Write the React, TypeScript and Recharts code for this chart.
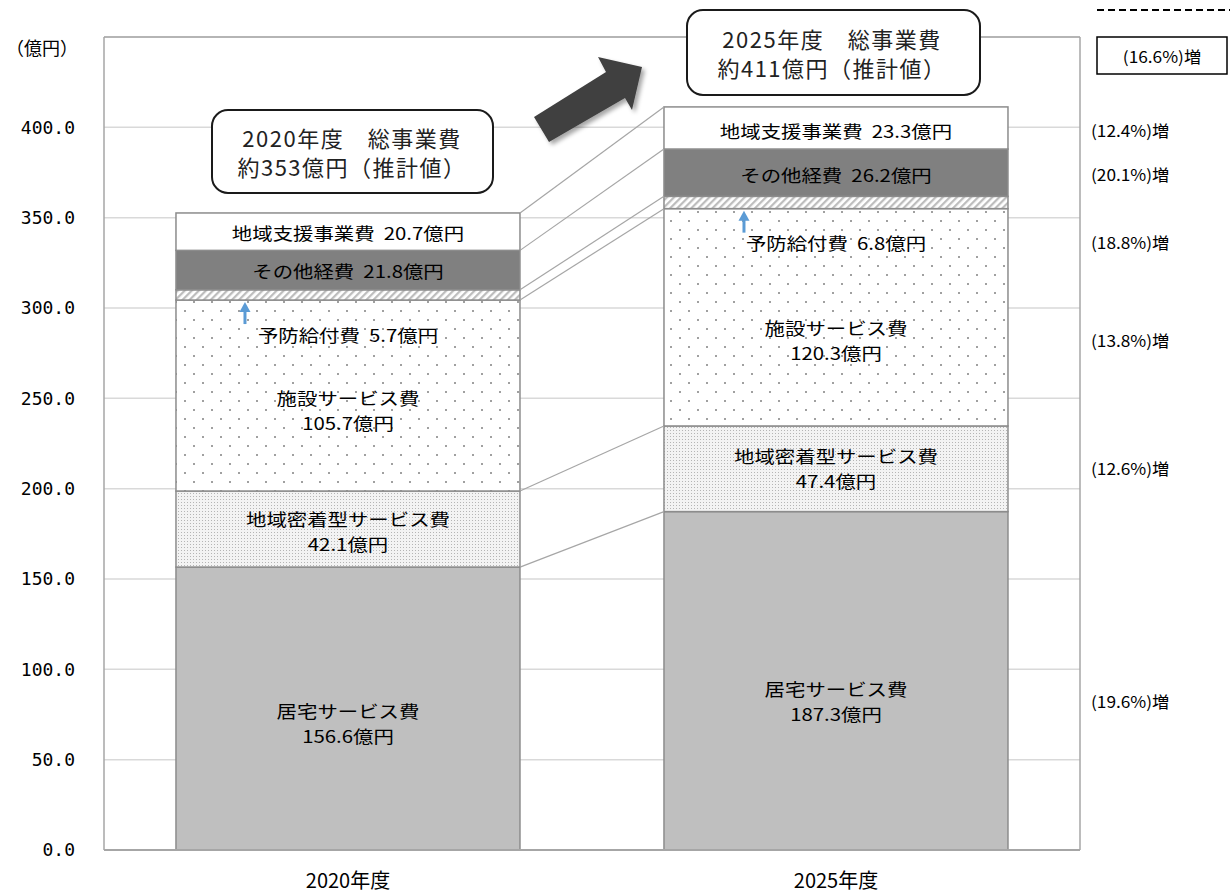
import React from "react";
import { ComposedChart, Bar, Line, XAxis, YAxis, CartesianGrid, ReferenceLine } from "recharts";

const FONT = '"Noto Sans CJK JP", "Noto Sans", sans-serif';
const MONO = '"DejaVu Sans Mono", "Liberation Mono", monospace';

const YEARS = ["2020年度", "2025年度"];
const SEGMENTS = ["居宅サービス費", "地域密着型サービス費", "施設サービス費", "予防給付費", "その他経費", "地域支援事業費"];
const VALUES_2020 = [156.6, 42.1, 105.7, 5.7, 21.8, 20.7];
const VALUES_2025 = [187.3, 47.4, 120.3, 6.8, 26.2, 23.3];
const GROWTH_2025 = ["(19.6%)増", "(12.6%)増", "(13.8%)増", "(18.8%)増", "(20.1%)増", "(12.4%)増"];
const TOTAL_GROWTH = "(16.6%)増";
const CALLOUTS = [
  ["2020年度　総事業費", "約353億円（推計値）"],
  ["2025年度　総事業費", "約411億円（推計値）"],
];
const Y_TICKS = [0, 50, 100, 150, 200, 250, 300, 350, 400];
const Y_MAX = 450;

// share of each category band left empty on either side of a bar
const BAR_GAP = 0.1475;

const FILLS = ["#bfbfbf", "url(#fineDots)", "url(#sparseDots)", "url(#hatch)", "#808080", "#ffffff"];
// label nudges (px) per segment, [2020, 2025]
const LABEL_DY = [[14, 20], [2, -1], [14, 23], [0, 0], [0, 2], [1, 2]];
const ARROW_DX = [69, 80];

const rows = YEARS.map((year, i) => {
  const vals = i === 0 ? VALUES_2020 : VALUES_2025;
  const row: Record<string, string | number> = { year };
  vals.forEach((v, k) => (row[`s${k}`] = v));
  return row;
});

const cumulative = (vals: number[]) =>
  vals.map((_, k) => Math.round(vals.slice(0, k + 1).reduce((a, b) => a + b, 0) * 10) / 10);
const cum2020 = cumulative(VALUES_2020);
const cum2025 = cumulative(VALUES_2025);
const connectors = cum2020.map((c, k) => [
  { cx: 1 - BAR_GAP, y: c },
  { cx: 1 + BAR_GAP, y: cum2025[k] },
]);

function labelLines(k: number, v: number): string[] {
  const amount = `${v.toFixed(1)}億円`;
  return k <= 2 ? [SEGMENTS[k], amount] : [`${SEGMENTS[k]}  ${amount}`];
}

function SText({ x, y, children, size = 17, sx = 1.2, anchor = "middle" }: any) {
  return (
    <text
      transform={`translate(${x},${y}) scale(${sx},1)`}
      textAnchor={anchor}
      dominantBaseline="central"
      fontSize={size}
      fontFamily={FONT}
      fill="#000"
      style={{ whiteSpace: "pre" }}
    >
      {children}
    </text>
  );
}

function BlueArrow({ x, y }: { x: number; y: number }) {
  return (
    <g>
      <line x1={x} y1={y + 8} x2={x} y2={y + 22} stroke="#5b9bd5" strokeWidth={3} />
      <polygon points={`${x},${y} ${x - 5.5},${y + 10} ${x + 5.5},${y + 10}`} fill="#5b9bd5" />
    </g>
  );
}

const segmentShape = (k: number) => (props: any) => {
  const { x, y, width, height, index } = props;
  const i = index as number;
  const vals = i === 0 ? VALUES_2020 : VALUES_2025;
  const lines = labelLines(k, vals[k]);
  const cx = x + width / 2;
  const cy = k === 3 ? y + height + 34 : y + height / 2 + LABEL_DY[k][i];
  const first = cy - ((lines.length - 1) * 25) / 2;
  return (
    <g>
      <rect x={x} y={y} width={width} height={height} fill={FILLS[k]} stroke="#8c8c8c" strokeWidth={1.5} />
      {lines.map((t, j) => (
        <SText key={j} x={cx} y={first + j * 25}>
          {t}
        </SText>
      ))}
      {k === 3 && <BlueArrow x={x + ARROW_DX[i]} y={y + height + 2} />}
      {i === 1 && (
        <SText x={x + width + 83} y={cy} size={16} sx={1.08} anchor="start">
          {GROWTH_2025[k]}
        </SText>
      )}
    </g>
  );
};

function Overlay() {
  return (
    <svg width={1230} height={893} style={{ position: "absolute", left: 0, top: 0, pointerEvents: "none" }}>
      <defs>
        <filter id="shadow" x="-20%" y="-20%" width="150%" height="150%">
          <feDropShadow dx="3" dy="3" stdDeviation="2" floodColor="#000" floodOpacity="0.35" />
        </filter>
      </defs>
      <text x={6} y={47} fontSize={18} fontFamily={FONT} dominantBaseline="central" fill="#000">
        （億円）
      </text>
      <line x1={1097} y1={10} x2={1230} y2={10} stroke="#000" strokeWidth={2} strokeDasharray="7 4" />
      {/* 2020 callout */}
      <rect x={212} y={110} width={281} height={83} rx={16} fill="#fff" stroke="#1a1a1a" strokeWidth={2} />
      {CALLOUTS[0].map((t, j) => (
        <text key={j} x={352} y={137 + j * 29} fontSize={22} letterSpacing={1.5} fontFamily={FONT}
          textAnchor="middle" dominantBaseline="central" fill="#222">
          {t}
        </text>
      ))}
      {/* 2025 callout */}
      <rect x={687} y={10} width={293} height={85} rx={16} fill="#fff" stroke="#1a1a1a" strokeWidth={2} />
      {CALLOUTS[1].map((t, j) => (
        <text key={j} x={832} y={38 + j * 29} fontSize={22} letterSpacing={1.5} fontFamily={FONT}
          textAnchor="middle" dominantBaseline="central" fill="#222">
          {t}
        </text>
      ))}
      <polygon
        points="534,117 606,72 598,57 642,67 632,110 625,98 549,142"
        fill="#404040"
        filter="url(#shadow)"
      />
      <rect x={1097} y={37} width={130} height={37} fill="#fff" stroke="#000" strokeWidth={1.5} />
      <SText x={1162} y={56} size={16} sx={1.08}>
        {TOTAL_GROWTH}
      </SText>
    </svg>
  );
}

export default function App() {
  return (
    <div style={{ position: "absolute", left: 0, top: 0, width: 1230, height: 893, background: "#fff", fontFamily: FONT }}>
      <ComposedChart
        width={1230}
        height={893}
        data={rows}
        margin={{ top: 37, right: 150, bottom: 13, left: 24 }}
        barCategoryGap={`${BAR_GAP * 100}%`}
      >
        <defs>
          <pattern id="hatch" patternUnits="userSpaceOnUse" width={5} height={5} patternTransform="rotate(45)">
            <rect width={5} height={5} fill="#fff" />
            <line x1={1} y1={0} x2={1} y2={5} stroke="#bdbdbd" strokeWidth={2.5} />
          </pattern>
          <pattern id="sparseDots" patternUnits="userSpaceOnUse" width={18} height={18}>
            <rect width={18} height={18} fill="#fff" />
            <rect x={4} y={4} width={2} height={2} fill="#a0a0a0" />
            <rect x={13} y={13} width={2} height={2} fill="#a0a0a0" />
          </pattern>
          <pattern id="fineDots" patternUnits="userSpaceOnUse" width={3} height={3}>
            <rect width={3} height={3} fill="#f3f3f3" />
            <rect x={1} y={1} width={1} height={1} fill="#b5b5b5" />
          </pattern>
        </defs>
        <CartesianGrid vertical={false} stroke="#d9d9d9" strokeWidth={1.5} />
        <XAxis
          dataKey="year"
          tickLine={false}
          axisLine={{ stroke: "#a6a6a6", strokeWidth: 2 }}
          tick={{ fontSize: 20, fill: "#000", fontFamily: FONT }}
          tickMargin={18}
        />
        <XAxis xAxisId="num" type="number" dataKey="cx" domain={[0, 2]} hide />
        <YAxis
          width={80}
          domain={[0, Y_MAX]}
          ticks={Y_TICKS}
          tickFormatter={(v: number) => v.toFixed(1)}
          tickLine={false}
          tickMargin={23}
          axisLine={{ stroke: "#a6a6a6", strokeWidth: 1.5 }}
          tick={{ fontSize: 18, fill: "#000", fontFamily: MONO }}
        />
        <ReferenceLine y={Y_MAX} stroke="#a6a6a6" strokeWidth={1.5} />
        <ReferenceLine xAxisId="num" x={2} stroke="#a6a6a6" strokeWidth={1.5} />
        {connectors.map((pts, k) => (
          <Line
            key={`c${k}`}
            xAxisId="num"
            data={pts}
            dataKey="y"
            stroke="#a6a6a6"
            strokeWidth={1.2}
            dot={false}
            activeDot={false}
            isAnimationActive={false}
          />
        ))}
        {SEGMENTS.map((s, k) => (
          <Bar key={s} dataKey={`s${k}`} stackId="total" shape={segmentShape(k)} isAnimationActive={false} />
        ))}
      </ComposedChart>
      <Overlay />
    </div>
  );
}
